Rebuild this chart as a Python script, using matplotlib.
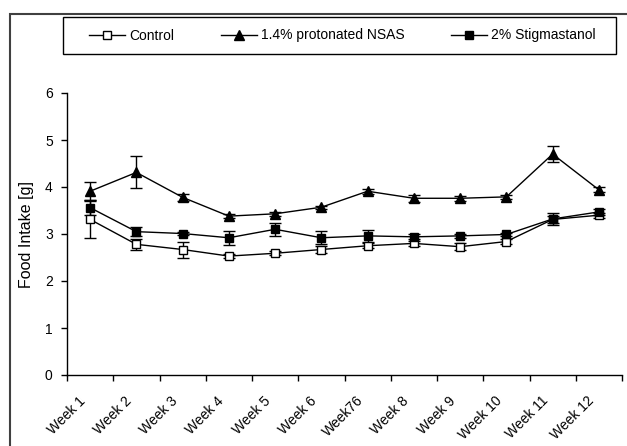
import matplotlib
matplotlib.use("Agg")
import matplotlib.pyplot as plt
from matplotlib.patches import Rectangle
from matplotlib.lines import Line2D
import matplotlib.transforms as mtransforms
import numpy as np

weeks = ["Week 1", "Week 2", "Week 3", "Week 4", "Week 5", "Week 6", "Week76",
         "Week 8", "Week 9", "Week 10", "Week 11", "Week 12"]

control = [3.31, 2.78, 2.67, 2.53, 2.59, 2.67, 2.75, 2.80, 2.73, 2.84, 3.31, 3.40]
control_err = [0.39, 0.12, 0.17, 0.04, 0.04, 0.07, 0.05, 0.06, 0.08, 0.05, 0.08, 0.05]

nsas = [3.91, 4.31, 3.78, 3.38, 3.43, 3.57, 3.91, 3.76, 3.76, 3.79, 4.70, 3.94]
nsas_err = [0.19, 0.34, 0.08, 0.05, 0.04, 0.03, 0.05, 0.07, 0.05, 0.05, 0.17, 0.05]

stig = [3.56, 3.05, 3.01, 2.92, 3.10, 2.92, 2.96, 2.94, 2.96, 2.99, 3.32, 3.47]
stig_err = [0.16, 0.10, 0.04, 0.15, 0.14, 0.14, 0.12, 0.05, 0.04, 0.04, 0.13, 0.07]

labels = ['Control', '1.4% protonated NSAS', '2% Stigmastanol']

plt.rcParams['font.family'] = ['Liberation Sans', 'DejaVu Sans']

W, H = 627, 446
fig = plt.figure(figsize=(W / 100, H / 100), dpi=100)

# outer frame
fig.patches.append(Rectangle((10 / W, -0.1), 1.2, (H - 14) / H + 0.1,
                             transform=fig.transFigure, fill=False,
                             edgecolor='#404040', linewidth=1.5, clip_on=False))
# legend box
fig.patches.append(Rectangle((63 / W, (H - 54) / H), 553 / W, 37 / H,
                             transform=fig.transFigure, fill=False,
                             edgecolor='black', linewidth=1.0))

ax = fig.add_axes([67 / W, (H - 375) / H, 555 / W, 282 / H])
x = np.arange(len(weeks))

common = dict(color='black', linewidth=1.0, elinewidth=1.0, capsize=4.5,
              capthick=1.0)
ax.errorbar(x, control, yerr=control_err, marker='s', markersize=6,
            markerfacecolor='white', markeredgecolor='black',
            markeredgewidth=1.0, zorder=3, **common)
ax.errorbar(x, nsas, yerr=nsas_err, marker='^', markersize=7,
            markerfacecolor='black', markeredgecolor='black', zorder=3,
            **common)
ax.errorbar(x, stig, yerr=stig_err, marker='s', markersize=6,
            markerfacecolor='black', markeredgecolor='black', zorder=3,
            **common)

ax.set_xlim(-0.5, len(weeks) - 0.5)
ax.set_ylim(0, 6)
ax.set_yticks(range(0, 7))
ax.tick_params(axis='y', direction='out', length=4.3, width=1, labelsize=10, pad=6)

ax.set_xticks(np.arange(-0.5, len(weeks), 1.0))
ax.set_xticklabels([])
ax.set_xticks(x, minor=True)
ax.set_xticklabels(weeks, minor=True, rotation=45, ha='right', va='center',
                   rotation_mode='anchor', fontsize=10)
ax.tick_params(axis='x', which='major', direction='out', length=4.3, width=1)
ax.tick_params(axis='x', which='minor', length=0, pad=17)
shift = mtransforms.ScaledTranslation(-7 / 100, 0, fig.dpi_scale_trans)
for lbl in ax.get_xticklabels(minor=True):
    lbl.set_transform(lbl.get_transform() + shift)

for s in ['top', 'right']:
    ax.spines[s].set_visible(False)
for s in ['left', 'bottom']:
    ax.spines[s].set_linewidth(1.0)

ax.set_ylabel('Food Intake [g]', fontsize=11.5, labelpad=8)

handles = [
    Line2D([], [], color='black', lw=1.0, marker='s', markersize=6,
           markerfacecolor='white', markeredgecolor='black'),
    Line2D([], [], color='black', lw=1.0, marker='^', markersize=7,
           markerfacecolor='black', markeredgecolor='black'),
    Line2D([], [], color='black', lw=1.0, marker='s', markersize=6,
           markerfacecolor='black', markeredgecolor='black'),
]
leg = fig.legend(handles, labels, loc='center', ncol=3,
                 bbox_to_anchor=(66 / W, (H - 54) / H, 553 / W, 37 / H),
                 bbox_transform=fig.transFigure, frameon=False,
                 fontsize=10, handlelength=2.6,
                 handletextpad=0.3, columnspacing=3.35, borderaxespad=0,
                 borderpad=0.0)

fig.savefig('out.png', dpi=100)
